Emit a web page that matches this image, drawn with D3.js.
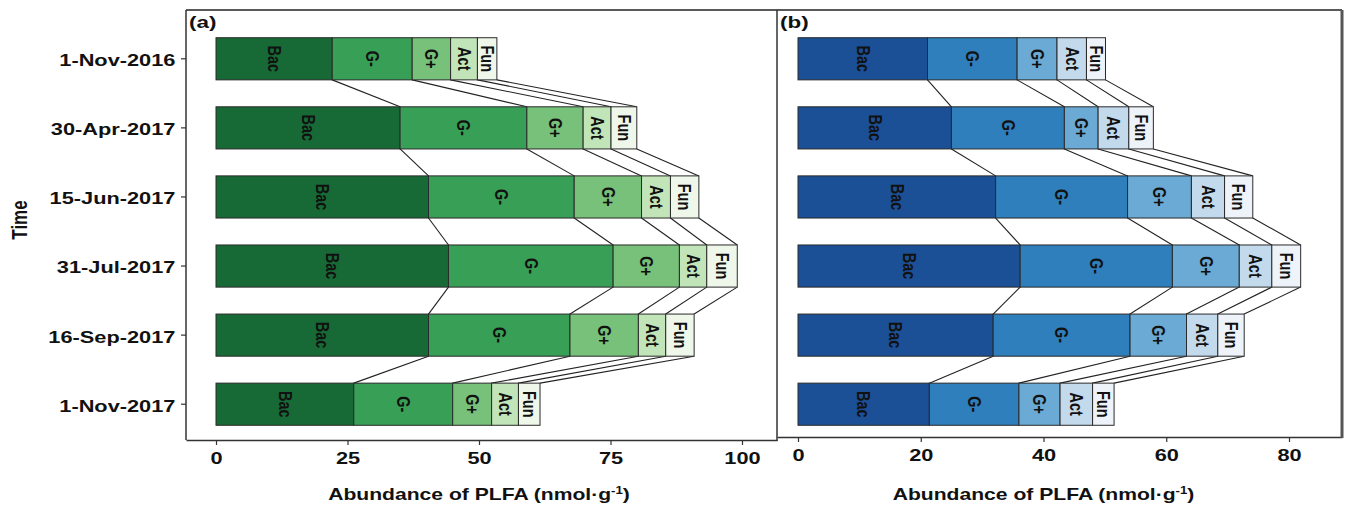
<!DOCTYPE html>
<html><head><meta charset="utf-8">
<script src="https://cdn.jsdelivr.net/npm/d3@7"></script>
<style>body{margin:0;background:#fff}svg{display:block}text{font-family:"Liberation Sans",Arial,sans-serif;font-weight:bold;fill:#111}</style>
</head><body><svg id="c" width="1346" height="511"></svg>
<script>
const categories = ["1-Nov-2016","30-Apr-2017","15-Jun-2017","31-Jul-2017","16-Sep-2017","1-Nov-2017"];
const groups = ["Bac","G-","G+","Act","Fun"];
// Panel (a)
const bacA  = [22.1,35.0,40.4,44.2,40.4,26.2];
const gnegA = [15.2,24.1,27.7,31.3,26.9,18.8];
const gposA = [7.3,10.7,12.8,12.6,13.0,7.4];
const actA  = [5.1,5.3,5.5,5.2,5.2,5.1];
const funA  = [3.7,4.9,5.4,5.8,5.4,4.1];
// Panel (b)
const bacB  = [21.1,25.0,32.2,36.2,31.8,21.4];
const gnegB = [14.6,18.4,21.5,24.8,22.3,14.6];
const gposB = [6.5,5.5,10.4,10.9,9.2,6.7];
const actB  = [4.8,5.0,5.4,5.3,5.1,5.3];
const funB  = [3.1,4.0,4.6,4.7,4.3,3.5];
const ticksA = [0,25,50,75,100];
const ticksB = [0,20,40,60,80];
const greens = ["#176a36","#389f56","#78c17a","#c1e4b8","#eef7ea"];
const blues  = ["#1b4f96","#2f7fbc","#6aaad4","#c3d9ec","#eef3fa"];

const SX = 1.32; // horizontal stretch of the original figure's text
const svg = d3.select("#c");
const y = d3.scaleBand().domain(categories).range([17, 446]).paddingInner(0.39).paddingOuter(0.3);

function panel(opts){
  const {series, colors, x, ticks, bottom, label, labelX} = opts;
  const g = svg.append("g");
  const stack = d3.stack().keys(groups)(categories.map((c,i)=>{
    const o = {cat:c}; groups.forEach((k,j)=>o[k]=series[j][i]); return o;}));
  // connectors
  for (let k=0;k<groups.length;k++){
    for (let i=0;i<categories.length-1;i++){
      const a = stack[k][i][1], b = stack[k][i+1][1];
      g.append("line")
        .attr("x1", x(a)).attr("y1", y(categories[i])+y.bandwidth())
        .attr("x2", x(b)).attr("y2", y(categories[i+1]))
        .attr("stroke","#222").attr("stroke-width",1.1);
    }
  }
  stack.forEach((layer,k)=>{
    layer.forEach((d,i)=>{
      g.append("rect")
        .attr("x", x(d[0])).attr("y", y(categories[i]))
        .attr("width", x(d[1])-x(d[0])).attr("height", y.bandwidth())
        .attr("fill", colors[k]).attr("stroke","#2a2a2a").attr("stroke-width",1);
      const cx = (x(d[0])+x(d[1]))/2, cy = y(categories[i])+y.bandwidth()/2;
      g.append("text")
        .attr("transform", `translate(${cx},${cy}) scale(${SX},1) rotate(90)`)
        .attr("text-anchor","middle").attr("dominant-baseline","central")
        .style("font-size","14.5px").text(groups[k]);
    });
  });
  // x axis
  const ax = g.append("g").attr("transform",`translate(0,${bottom})`)
    .call(d3.axisBottom(x).tickValues(ticks).tickSize(5).tickSizeOuter(0));
  ax.select(".domain").attr("stroke","#333").attr("stroke-width",1.5);
  ax.selectAll(".tick line").attr("stroke","#333").attr("stroke-width",1.2);
  ax.selectAll(".tick text").attr("y",12).attr("dy","0.71em")
    .attr("transform",`scale(${SX},1)`).style("font-size","16.5px").attr("fill","#111");
  g.append("text").attr("transform",`translate(${(x(0)+x(ticks[ticks.length-1]))/2},${500}) scale(${SX},1)`)
    .attr("text-anchor","middle").style("font-size","16px")
    .html('Abundance of PLFA (nmol·g<tspan dy="-6" style="font-size:10px">-1</tspan><tspan dy="6">)</tspan>');
  g.append("text").attr("transform",`translate(${labelX},28) scale(${SX},1)`)
    .style("font-size","17px").text(label);
}

const xA = d3.scaleLinear().domain([(186-216)/5.26, (777-216)/5.26]).range([186,777]);
const xB = d3.scaleLinear().domain([(777-798)/6.1375, (1342-798)/6.1375]).range([777,1342]);

panel({series:[bacA,gnegA,gposA,actA,funA], colors:greens, x:xA, ticks:ticksA, bottom:440, label:"(a)", labelX:189});
panel({series:[bacB,gnegB,gposB,actB,funB], colors:blues, x:xB, ticks:ticksB, bottom:437, label:"(b)", labelX:780});

// frame lines
svg.append("line").attr("x1",186).attr("x2",1342).attr("y1",10).attr("y2",10).attr("stroke","#222").attr("stroke-width",1.5);
svg.append("line").attr("x1",777).attr("x2",777).attr("y1",10).attr("y2",441).attr("stroke","#333").attr("stroke-width",1.5);
svg.append("line").attr("x1",1342).attr("x2",1342).attr("y1",10).attr("y2",438).attr("stroke","#555").attr("stroke-width",3);

// y axis (panel a)
const ay = svg.append("g").attr("transform","translate(186,0)")
  .call(d3.axisLeft(y).tickSize(5).tickSizeOuter(0));
ay.select(".domain").attr("d","M0,10V440").attr("stroke","#333").attr("stroke-width",1.5);
ay.selectAll(".tick line").attr("stroke","#333").attr("stroke-width",1.2);
ay.selectAll(".tick text").attr("x",-8).attr("dy","0.45em").attr("transform",`scale(${SX},1)`).style("font-size","16.5px").attr("fill","#111");
svg.append("text").attr("transform",`translate(27,220) scale(${SX},1) rotate(-90)`)
  .attr("text-anchor","middle").style("font-size","17px").text("Time");
</script></body></html>
